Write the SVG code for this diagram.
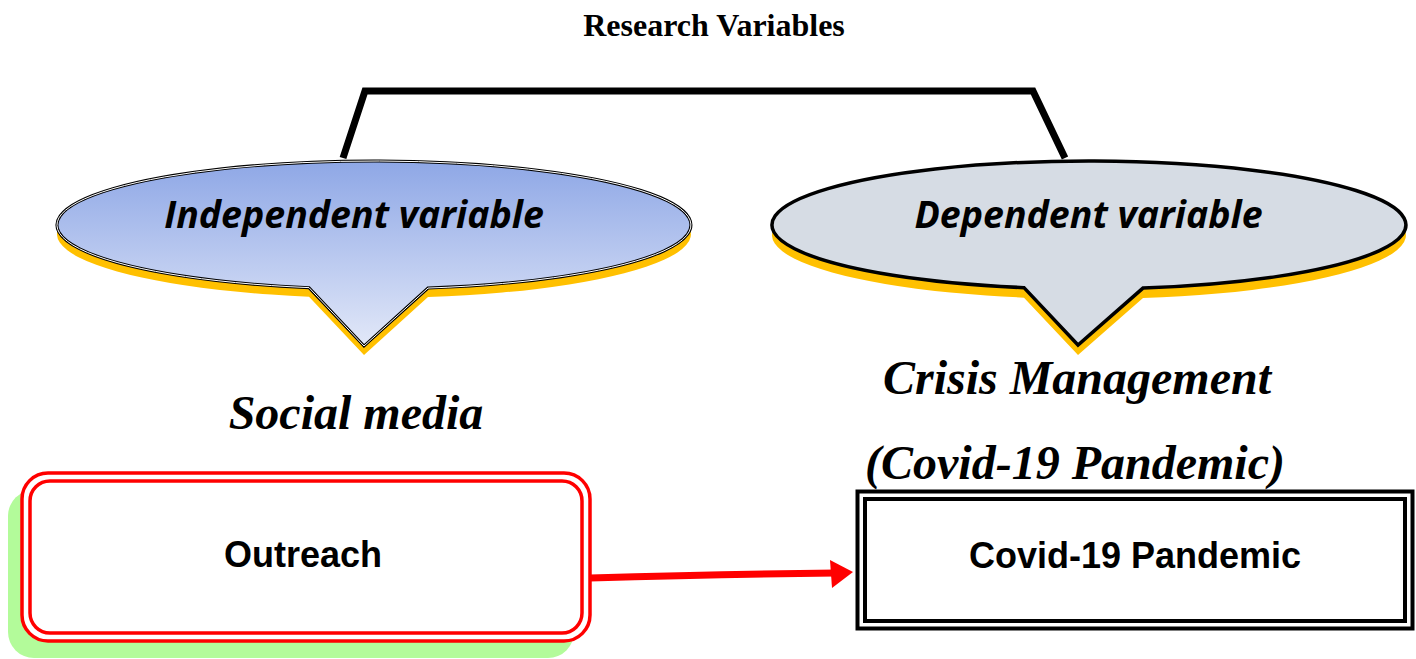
<svg xmlns="http://www.w3.org/2000/svg" width="1416" height="659" viewBox="0 0 1416 659">
<style>
.title{font-family:"Liberation Serif",serif;font-weight:bold;font-size:32px;fill:#000}
.callout{font-family:"Open Sans","Noto Sans",sans-serif;font-weight:bold;font-style:italic;font-size:37.5px;fill:#000}
.big{font-family:"Liberation Serif",serif;font-weight:bold;font-style:italic;font-size:48px;fill:#000}
.box{font-family:"Liberation Sans",sans-serif;font-weight:bold;font-size:36px;fill:#000}
</style>
<defs>
<linearGradient id="blue" x1="0" y1="0" x2="0" y2="1">
<stop offset="0" stop-color="#8EA7E6"/>
<stop offset="1" stop-color="#E2E8F8"/>
</linearGradient>
</defs>
<text class="title" x="714" y="36" text-anchor="middle">Research Variables</text>
<g id="connectors">
<path d="M343,158 L365,91 L1033,91 L1065,158" fill="none" stroke="#000" stroke-width="7" stroke-linejoin="miter"/>
<path d="M590,578 Q720,574 836,573" fill="none" stroke="#FF0000" stroke-width="7"/>
<path d="M830,560 L853,572 L832,588 Z" fill="#FF0000"/>
</g>
<g id="independent">
<path d="M309,287.64 A317,64 0 1 1 428,288.06 L364,346 Z" fill="#FFC000" transform="translate(0,9)"/>
<path d="M309,287.64 A317,64 0 1 1 428,288.06 L364,346 Z" fill="url(#blue)" stroke="#000" stroke-width="3"/>
<path d="M309,287.64 A317,64 0 1 1 428,288.06 L364,346 Z" fill="none" stroke="#fff" stroke-width="1"/>
<text class="callout" x="354" y="228" text-anchor="middle">Independent variable</text>
</g>
<g id="dependent">
<path d="M1024,287.64 A317,64 0 1 1 1143,288.06 L1078,345 Z" fill="#FFC000" transform="translate(0,10)"/>
<path d="M1024,287.64 A317,64 0 1 1 1143,288.06 L1078,345 Z" fill="#D6DCE4" stroke="#000" stroke-width="3.5"/>
<text class="callout" x="1088.5" y="228" text-anchor="middle">Dependent variable</text>
</g>
<text class="big" x="356" y="429" text-anchor="middle">Social media</text>
<text class="big" x="1077" y="394" text-anchor="middle">Crisis Management</text>
<text class="big" x="1075" y="479" text-anchor="middle">(Covid-19 Pandemic)</text>
<g id="outreach">
<rect x="8" y="490" width="566" height="168" rx="26" fill="#B3FB9A"/>
<rect x="22" y="473" width="568" height="168" rx="26" fill="#fff" stroke="#FF0000" stroke-width="3.5"/>
<rect x="30" y="481" width="552" height="152" rx="20" fill="none" stroke="#FF0000" stroke-width="3.5"/>
<text class="box" x="303" y="567" text-anchor="middle">Outreach</text>
</g>
<g id="covid">
<rect x="857.5" y="491.5" width="555" height="137" fill="#fff" stroke="#000" stroke-width="4"/>
<rect x="865" y="499" width="540" height="122" fill="none" stroke="#000" stroke-width="4"/>
<text class="box" x="1135" y="568" text-anchor="middle">Covid-19 Pandemic</text>
</g>
</svg>
